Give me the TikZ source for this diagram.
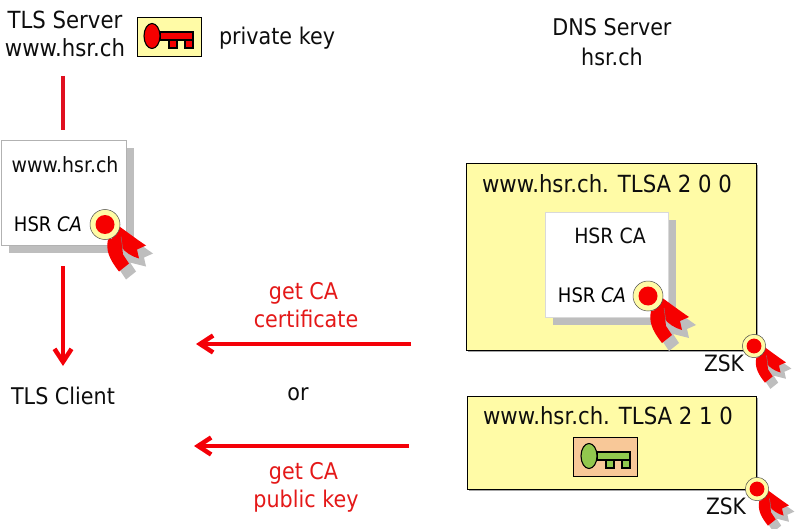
\documentclass[tikz,border=0pt]{standalone}
\usepackage{fontspec}
\setmainfont[FakeStretch=0.9]{DejaVu Sans}
\usetikzlibrary{arrows.meta}
\definecolor{boxyellow}{HTML}{FFFBA6}
\definecolor{keyred}{HTML}{F60000}
\definecolor{lnred}{HTML}{E01020}
\definecolor{arrred}{HTML}{F40008}
\definecolor{txtred}{HTML}{E41818}
\definecolor{peach}{HTML}{F8C898}
\definecolor{keygreen}{HTML}{92C84E}
\definecolor{shadowgrey}{HTML}{BEBEBE}
\tikzset{
 txt/.style={inner sep=0pt,font=\fontsize{23}{28}\selectfont,align=center,text=black!95},
 txtw/.style={txt,font=\fontsize{23.6}{28}\selectfont},
 redtxt/.style={txt,text=txtred},
 ca/.style={inner sep=0pt,font=\fontsize{20}{24}\selectfont},
 zsk/.style={txt,font=\fontsize{22.5}{26}\selectfont},
 dnsbox/.style={draw=black,line width=1pt,fill=boxyellow,inner sep=0pt,anchor=north west},
 cert/.style={fill=white,draw=black!30,line width=.6pt,inner sep=0pt,anchor=north west},
 shadowrect/.style={fill=shadowgrey,inner sep=0pt,anchor=north west},
 keybox/.style={draw=black,line width=1.3pt,inner sep=0pt,anchor=north west,minimum width=64pt,minimum height=39pt},
 redline/.style={draw=lnred,line width=4pt},
 redarrow/.style={draw=arrred,line width=4pt,-{Straight Barb[length=13pt,width=17pt,line width=4.5pt]}},
 pics/seal/.style={code={
   \fill[shadowgrey,shift={(7,8)}] (14,2)--(41,21)--(32,25)--(34,34)--(18,30)--(24,39)--(14,47)--(4,32)--(3,15)--cycle;
   \fill[keyred] (3,15) .. controls (1,25) and (3,33) .. (14,47) -- (24,39) -- (18,30) -- (16,12) -- cycle;
   \fill[keyred] (13,1) .. controls (20,6) and (32,15) .. (41,21) -- (32,25) -- (34,34) .. controls (27,32) and (20,28) .. (16,22) -- (5,12) -- cycle;
   \draw[black!50,line width=.4pt] (16,12) -- (18,26);
   \fill[boxyellow,draw=black!70,line width=.5pt] (0,0) circle (15);
   \fill[keyred] (0,0) circle (9.5);
 }},
 pics/thekey/.style={code={
   \draw[fill=#1,line width=1.1pt] (0,-4) rectangle (33,4);
   \draw[fill=#1,line width=1.1pt] (9,4) rectangle (17,12);
   \draw[fill=#1,line width=1.1pt] (25,4) rectangle (33,12);
   \draw[fill=#1,line width=1.1pt] (-8,0) ellipse (8 and 12.5);
 }}
}
\begin{document}
\begin{tikzpicture}[x=1pt,y=-1pt]
\useasboundingbox (0,0) rectangle (799,529);
% headers
\node[txtw] (server) at (65,34) {TLS Server\\www.hsr.ch};
\node[keybox,fill=boxyellow] (privbox) at (137,17) {};
\pic at (160,36) {thekey=keyred};
\node[txt] (privlabel) at (277,38) {private key};
\node[txt,font=\fontsize{23}{30.5}\selectfont] (dns) at (612,42) {DNS Server\\hsr.ch};
% left certificate
\node[shadowrect,minimum width=125pt,minimum height=105pt] (lcs) at (9,148) {};
\node[cert,minimum width=125pt,minimum height=105pt] (lcert) at (1,140) {};
\node[txt,font=\fontsize{21}{25}\selectfont] (lname) at (65,165) {www.hsr.ch};
\node[ca] (lca) at (48,224) {HSR {\itshape CA}};
\pic at (105,224.5) {seal};
% connectors left
\coordinate (s1) at (63,76);
\coordinate (s2) at (63,130);
\coordinate (c1) at (63,266);
\node[txt] (client) at (63,396) {TLS Client};
\coordinate (c2) at (63,366);
\draw[redline] (s1) -- (s2);
\draw[redarrow] (c1) -- (c2);
% upper box
\node[dnsbox,minimum width=290pt,minimum height=187pt,
      preaction={fill=black!35,transform canvas={shift={(1.5pt,-1.5pt)}}}] (ub) at (466,163) {};
\node[txtw] (ut) at (607,184) {www.hsr.ch. TLSA 2 0 0};
\node[shadowrect,minimum width=123pt,minimum height=105pt] (mcs) at (553,220) {};
\node[cert,minimum width=123pt,minimum height=105pt,draw=black!15] (mcert) at (545,212) {};
\node[txt,font=\fontsize{21}{25}\selectfont] (mname) at (610,236) {HSR CA};
\node[ca] (mca) at (592,295) {HSR {\itshape CA}};
\pic at (648,296) {seal};
\pic[scale=.78] at (754,346) {seal};
\node[zsk] (zsk1) at (724,363) {ZSK};
% lower box
\node[dnsbox,minimum width=289pt,minimum height=93pt,
      preaction={fill=black!35,transform canvas={shift={(1.5pt,-1.5pt)}}}] (lb) at (467,396) {};
\node[txtw] (lt) at (608,416) {www.hsr.ch. TLSA 2 1 0};
\node[keybox,fill=peach] (pubbox) at (573,437) {};
\pic at (597,456) {thekey=keygreen};
\pic[scale=.78] at (757,489) {seal};
\node[zsk] (zsk2) at (726,506) {ZSK};
% arrows
\coordinate (a1s) at (411,344);
\coordinate (a1e) at (196,344);
\coordinate (a2s) at (409,446);
\coordinate (a2e) at (194,446);
\draw[redarrow] (a1s) -- (a1e);
\draw[redarrow] (a2s) -- (a2e);
\node[redtxt] (l1) at (306,305) {get CA\hspace*{5pt}\\certificate};
\node[txt] (or) at (298,394) {or};
\node[redtxt] (l2) at (306,487) {get CA\hspace*{5pt}\\public key};
\end{tikzpicture}
\end{document}
